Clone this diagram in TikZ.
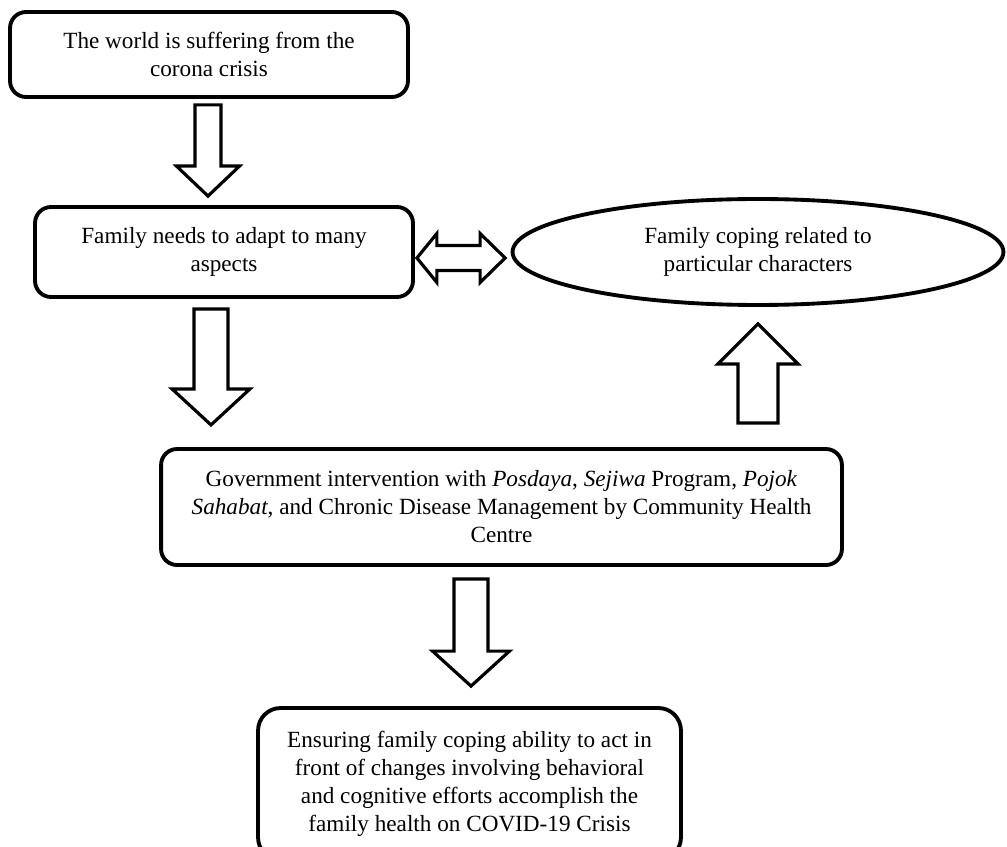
\documentclass[tikz,border=0pt]{standalone}
\usepackage{fontspec}
\setmainfont{Liberation Serif}
\usetikzlibrary{shapes.geometric,calc}

% block arrow: tail, tip, half shaft, half head, head length (in px)
\newcommand{\fatarrow}[5]{%
  \coordinate (hb) at ($(#2)!#5*0.02cm!(#1)$);
  \draw[fat] ($(#1)!#3*0.02cm!90:(#2)$) -- ($(hb)!#3*0.02cm!90:(#2)$)
    -- ($(hb)!#4*0.02cm!90:(#2)$) -- (#2) -- ($(hb)!#4*0.02cm!-90:(#2)$)
    -- ($(hb)!#3*0.02cm!-90:(#2)$) -- ($(#1)!#3*0.02cm!-90:(#2)$) -- cycle;}
% double block arrow: left tip, right tip, half shaft, half head, left head, right head
\newcommand{\fatdouble}[6]{%
  \coordinate (hl) at ($(#1)!#5*0.02cm!(#2)$);
  \coordinate (hr) at ($(#2)!#6*0.02cm!(#1)$);
  \draw[fat] (#1) -- ($(hl)!#4*0.02cm!90:(#2)$) -- ($(hl)!#3*0.02cm!90:(#2)$)
    -- ($(hr)!#3*0.02cm!-90:(#1)$) -- ($(hr)!#4*0.02cm!-90:(#1)$) -- (#2)
    -- ($(hr)!#4*0.02cm!90:(#1)$) -- ($(hr)!#3*0.02cm!90:(#1)$)
    -- ($(hl)!#3*0.02cm!-90:(#2)$) -- ($(hl)!#4*0.02cm!-90:(#2)$) -- cycle;}

\begin{document}
\begin{tikzpicture}[x=0.02cm,y=-0.02cm,
  box/.style={draw,line width=2.2pt,rounded corners=0.32cm,align=center,inner sep=0pt},
  fat/.style={draw,line width=1.8pt,fill=white}]
  \tikzset{font={\fontsize{13.2}{15.9}\selectfont}}
  \useasboundingbox (0,0) rectangle (1007,847);
  \node[box,minimum width=7.96cm,minimum height=1.70cm] (world) at (209,54.5)
    {The world is suffering from the\\corona crisis};
  \node[box,minimum width=7.56cm,minimum height=1.80cm] (adapt) at (224,252)
    {Family needs to adapt to many\\aspects};
  \node[draw,ellipse,line width=2.2pt,align=center,inner sep=0pt,
    minimum width=9.82cm,minimum height=2.12cm] (cope) at (758,252)
    {Family coping related to\\particular characters};
  \node[box,minimum width=13.62cm,minimum height=2.32cm] (gov) at (501.5,507)
    {Government intervention with \textit{Posdaya}, \textit{Sejiwa} Program, \textit{Pojok}\\
     \textit{Sahabat}, and Chronic Disease Management by Community Health\\Centre};
  \node[box,rounded corners=0.45cm,minimum width=8.46cm,minimum height=3.04cm] (ensure) at (469.5,784)
    {Ensuring family coping ability to act in\\front of changes involving behavioral\\
     and cognitive efforts accomplish the\\family health on COVID-19 Crisis};
  % arrow ends
  \coordinate (a1) at ($(world.south)+(-1,6)$);
  \coordinate (b1) at ($(adapt.north)+(-16,-9)$);
  \coordinate (a2) at ($(adapt.south)+(-13,10)$);
  \coordinate (b2) at ($(adapt.south)+(-13,126)$);
  \coordinate (a3) at ($(gov.south)+(-30.5,12)$);
  \coordinate (b3) at ($(ensure.north)+(1.5,-20)$);
  \coordinate (a4) at ($(cope.south)+(0,116)$);
  \coordinate (b4) at ($(cope.south)+(0,17)$);
  \coordinate (l5) at ($(adapt.east)+(2,6)$);
  \coordinate (r5) at ($(cope.west)+(-5.5,6)$);
  \fatarrow{a1}{b1}{13}{31.5}{30}
  \fatarrow{a2}{b2}{17}{39}{36}
  \fatarrow{a3}{b3}{17}{38.5}{35}
  \fatarrow{a4}{b4}{20}{40}{40}
  \fatdouble{l5}{r5}{12.5}{24.5}{20}{25}
\end{tikzpicture}
\end{document}
